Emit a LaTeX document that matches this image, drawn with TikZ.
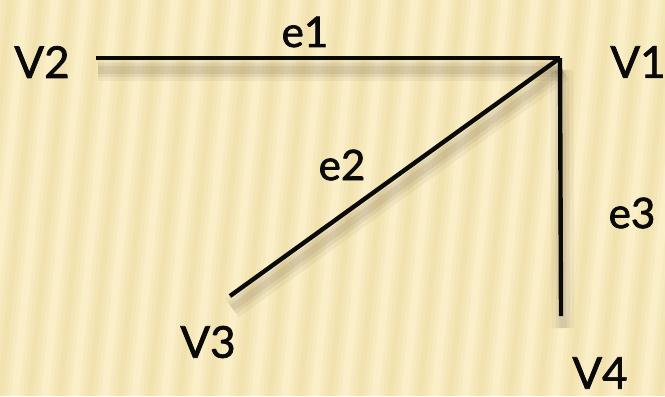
\documentclass[tikz,border=0pt]{standalone}
\usepackage{fontspec}
\setmainfont[FakeBold=1.6]{Lato}
\usepackage{xcolor}
\usepackage{tikz}
\usetikzlibrary{calc,positioning}
\definecolor{paperbase}{RGB}{253,244,210}
\definecolor{paperstripe}{RGB}{236,216,152}
\definecolor{inkdark}{RGB}{10,10,10}

\tikzset{
  vlabel/.style={font=\fontsize{25}{28}\selectfont, text=inkdark, inner sep=0pt},
  elabel/.style={font=\fontsize{24}{27}\selectfont, text=inkdark, inner sep=0pt},
  edgeline/.style={draw=inkdark, line width=2.5pt, line cap=butt,
    preaction={draw=black!70!brown, opacity=0.05, line width=13pt,
      transform canvas={shift={(2,12)}}},
    preaction={draw=black!70!brown, opacity=0.07, line width=8pt,
      transform canvas={shift={(2,12)}}},
    preaction={draw=black!70!brown, opacity=0.07, line width=4pt,
      transform canvas={shift={(2,12)}}}},
}

\begin{document}
\begin{tikzpicture}[x=0.02cm, y=-0.02cm]
% Page box in pixel units of the reference (665 x 396, y downwards).
\useasboundingbox (0,0) rectangle (665,396);
\fill[paperbase] (0,0) rectangle (665,396);
% Slanted paper stripes: each one is a few stacked translucent
% parallelograms so the edges look soft.
\begin{scope}
\clip (0,0) rectangle (665,396);
\foreach \x in {-60,-30,...,690}
  \foreach \w/\op in {15/0.15,11/0.2,7/0.22,3/0.22}
    \fill[paperstripe, opacity=\op]
      (\x-\w,396) -- (\x+\w,396) -- (\x+40+\w,0) -- (\x+40-\w,0) -- cycle;
\end{scope}
% Vertices of the graph
\coordinate (v1) at (560,58);
\coordinate (v2) at (96,58);
\coordinate (v3) at (230,296);
\coordinate (v4) at (561,316);
% Vertex labels
\node[vlabel] (n1) at (638,62) {V1};
\node[vlabel] (n2) at (42,62) {V2};
\node[vlabel] (n3) at (208,342) {V3};
\node[vlabel] (n4) at (600,373) {V4};
% Edges with their shadows
\draw[edgeline] (v2) -- (v1);
\draw[edgeline] (v1) -- (v3);
\draw[edgeline] (v1) -- (v4);
% Edge labels
\node[elabel] (l1) at (305,32) {e1};
\node[elabel] (l2) at (342,165) {e2};
\node[elabel] (l3) at (632,213) {e3};
\end{tikzpicture}
\end{document}
